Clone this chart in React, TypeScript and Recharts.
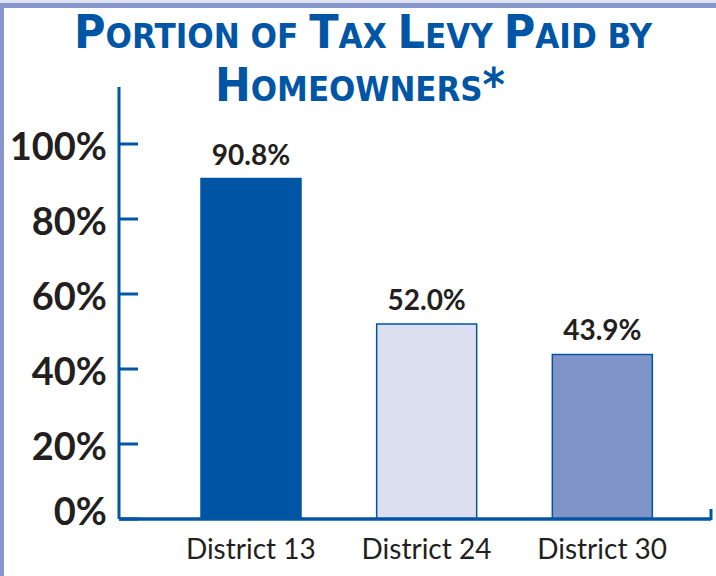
import React from 'react';
import { BarChart, Bar, Cell, XAxis, YAxis, LabelList } from 'recharts';

// values
const districts = ['District 13', 'District 24', 'District 30'];
const homeownerShare = [90.8, 52.0, 43.9];
const yTicks = [0, 20, 40, 60, 80, 100];
const barColors = ['#0054a4', '#dcdff0', '#8094c8'];

const BLUE = '#0055a5';
const INK = '#231f20';
const FONT = 'Lato, "Open Sans", sans-serif';

const data = districts.map((name, i) => ({ name, share: homeownerShare[i] }));

// y tick: bold label on the left, short tick pointing into the plot
function YTick({ x, y, payload }: any) {
  // the 0% label sits a little above the x axis line in the original
  const lift = payload.value === 0 ? -10 : 0;
  return (
    <g>
      <line x1={x} y1={y} x2={x + 19} y2={y} stroke={BLUE} strokeWidth={3} />
      <text
        x={x - 12}
        y={y + 16 + lift}
        textAnchor="end"
        fontFamily={FONT}
        fontWeight={700}
        fontSize={38}
        fill={INK}
      >
        {payload.value}%
      </text>
    </g>
  );
}

function Title() {
  const big = 47;
  const small = 34;
  return (
    <g fill={BLUE} fontFamily='"Liberation Sans Narrow", "DejaVu Sans Condensed", sans-serif' fontWeight={700}>
      <text x={74} y={48} textLength={578} lengthAdjust="spacingAndGlyphs">
        <tspan fontSize={big}>P</tspan>
        <tspan fontSize={small}>ORTION OF </tspan>
        <tspan fontSize={big}>T</tspan>
        <tspan fontSize={small}>AX </tspan>
        <tspan fontSize={big}>L</tspan>
        <tspan fontSize={small}>EVY </tspan>
        <tspan fontSize={big}>P</tspan>
        <tspan fontSize={small}>AID BY</tspan>
      </text>
      <text x={215} y={101} textLength={290} lengthAdjust="spacingAndGlyphs">
        <tspan fontSize={big}>H</tspan>
        <tspan fontSize={small}>OMEOWNERS</tspan>
        <tspan fontSize={big}>*</tspan>
      </text>
    </g>
  );
}

export default function App() {
  return (
    <div style={{ position: 'absolute', left: 0, top: 0, width: 716, height: 576, background: '#fff' }}>
      <BarChart
        width={716}
        height={576}
        data={data}
        margin={{ top: 87, right: 5, bottom: 0, left: 0 }}
        barCategoryGap={0}
      >
        <XAxis
          dataKey="name"
          height={57}
          padding={{ left: 44, right: 21 }}
          axisLine={{ stroke: BLUE, strokeWidth: 3.5 }}
          tickLine={false}
          tickSize={0}
          tickMargin={20}
          tick={{ fill: INK, fontSize: 28, fontFamily: FONT }}
          interval={0}
        />
        <YAxis
          width={119}
          domain={[0, 115.2]}
          ticks={yTicks}
          allowDataOverflow
          axisLine={{ stroke: BLUE, strokeWidth: 3 }}
          tickLine={false}
          tickSize={0}
          tickMargin={0}
          tick={<YTick />}
        />
        <Bar dataKey="share" barSize={100} stroke={BLUE} strokeWidth={1.5} isAnimationActive={false}>
          {data.map((d, i) => (
            <Cell key={d.name} fill={barColors[i]} />
          ))}
          <LabelList
            dataKey="share"
            position="top"
            offset={14}
            formatter={(v: any) => `${Number(v).toFixed(1)}%`}
            style={{ fill: INK, fontSize: 28, fontFamily: FONT, fontWeight: 700 }}
          />
        </Bar>
      </BarChart>
      <svg
        width={716}
        height={576}
        style={{ position: 'absolute', left: 0, top: 0, pointerEvents: 'none' }}
      >
        {/* page frame */}
        <rect x={0} y={0} width={716} height={3} fill="#dfe2f1" />
        <rect x={0} y={3} width={716} height={5} fill="#8797cb" />
        <rect x={0} y={3} width={4} height={573} fill="#8797cb" />
        {/* small upturn at the end of the x axis */}
        <line x1={711} y1={520} x2={711} y2={509} stroke={BLUE} strokeWidth={3} />
        <Title />
      </svg>
    </div>
  );
}
